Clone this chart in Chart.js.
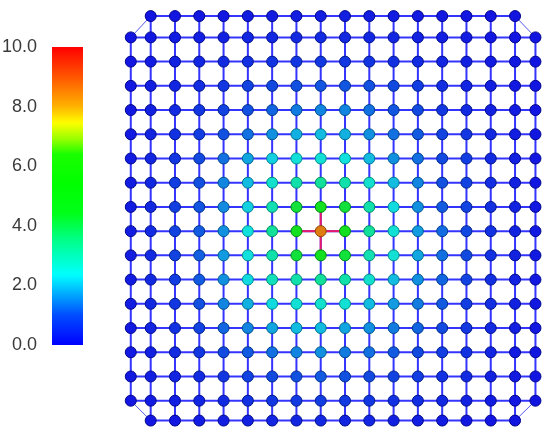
<!DOCTYPE html>
<html>
<head>
<meta charset="utf-8">
<script src="https://cdn.jsdelivr.net/npm/chart.js@4/dist/chart.umd.min.js"></script>
<style>
  html, body { margin: 0; padding: 0; background: #ffffff; }
  #wrap { position: relative; width: 550px; height: 437px; }
  #gridBox { position: absolute; left: 0; top: 0; width: 550px; height: 437px; }
  #barBox { position: absolute; left: 0; top: 0; width: 100px; height: 437px; }
</style>
</head>
<body>
<div id="wrap">
  <div id="gridBox"><canvas id="grid"></canvas></div>
  <div id="barBox"><canvas id="bar"></canvas></div>
</div>
<script>
// Node coordinates (columns left->right, rows top->bottom)
const xPos = [0.18, 1, 2, 3, 4, 5, 6, 7, 8, 9, 10, 11, 12, 13, 14, 15, 16, 16.84];
const yPos = [16.88, 16, 15, 14, 13, 12, 11, 10, 9, 8, 7, 6, 5, 4, 3, 2, 1, 0.18];

// Node values, rows top -> bottom (null = no node)
const row00 = [null,0.05,0.07,0.1,0.12,0.15,0.18,0.2,0.2,0.2,0.18,0.15,0.12,0.1,0.07,0.05,0.04,null];
const row01 = [0.05,0.1,0.15,0.2,0.25,0.3,0.35,0.38,0.4,0.38,0.35,0.3,0.25,0.2,0.15,0.1,0.07,0.04];
const row02 = [0.07,0.14,0.22,0.3,0.4,0.48,0.55,0.6,0.62,0.6,0.55,0.48,0.4,0.3,0.22,0.14,0.1,0.05];
const row03 = [0.1,0.2,0.3,0.45,0.6,0.8,0.9,1.0,1.05,1.05,1.0,0.9,0.7,0.45,0.3,0.2,0.12,0.06];
const row04 = [0.1,0.22,0.4,0.6,0.8,1.0,1.2,1.4,1.5,1.5,1.3,1.05,0.9,0.6,0.4,0.25,0.15,0.07];
const row05 = [0.12,0.28,0.5,0.7,1.0,1.3,1.6,1.9,2.0,1.9,1.6,1.3,1.1,0.8,0.6,0.35,0.2,0.08];
const row06 = [0.15,0.32,0.6,0.9,1.3,1.8,2.2,2.45,2.5,2.4,2.0,1.6,1.3,0.9,0.7,0.4,0.22,0.1];
const row07 = [0.15,0.35,0.7,1.0,1.5,2.0,2.6,3.0,3.2,3.0,2.6,2.0,1.5,1.0,0.8,0.45,0.25,0.1];
const row08 = [0.17,0.38,0.72,1.05,1.55,2.2,2.9,4.2,4.7,4.2,3.0,2.3,1.6,1.1,0.8,0.48,0.26,0.1];
const row09 = [0.18,0.4,0.8,1.1,1.6,2.4,3.2,4.7,8.5,4.7,3.2,2.5,1.7,1.25,0.85,0.5,0.27,0.11];
const row10 = [0.18,0.4,0.8,1.15,1.7,2.4,3.0,4.2,4.7,4.2,2.9,2.5,1.8,1.3,0.9,0.5,0.27,0.11];
const row11 = [0.17,0.38,0.7,1.1,1.6,2.3,2.8,3.0,3.2,3.0,2.6,2.0,1.6,1.2,0.8,0.48,0.26,0.1];
const row12 = [0.15,0.35,0.6,1.0,1.5,1.9,2.3,2.5,2.6,2.5,2.0,1.7,1.4,1.1,0.7,0.45,0.24,0.1];
const row13 = [0.13,0.3,0.5,0.8,1.2,1.5,1.8,2.0,2.0,1.8,1.6,1.4,1.2,0.9,0.6,0.4,0.2,0.09];
const row14 = [0.11,0.25,0.4,0.6,0.9,1.1,1.3,1.5,1.6,1.4,1.3,1.1,0.9,0.7,0.5,0.3,0.17,0.08];
const row15 = [0.1,0.2,0.3,0.4,0.6,0.8,0.9,1.0,1.1,1.0,0.9,0.8,0.7,0.5,0.4,0.25,0.13,0.07];
const row16 = [0.07,0.14,0.2,0.3,0.4,0.5,0.6,0.65,0.7,0.65,0.6,0.5,0.45,0.35,0.25,0.15,0.1,0.05];
const row17 = [null,0.07,0.1,0.15,0.2,0.25,0.3,0.33,0.35,0.33,0.3,0.25,0.2,0.15,0.1,0.07,0.05,null];
const values = [row00,row01,row02,row03,row04,row05,row06,row07,row08,row09,row10,row11,row12,row13,row14,row15,row16,row17];

// Colour scale: value -> hue stops (as seen on the colour bar)
const scaleMin = 0, scaleMax = 10;
const scaleTicks = [0, 2, 4, 6, 8, 10];
const cmapValues = [0, 1.0, 2.35, 3.6, 4.4, 5.4, 6.4, 6.9, 7.45, 8.0, 9.0, 10];
const cmapHues   = [240, 222, 180, 150, 126, 120, 114, 85, 60, 42, 20, 0];
const hotValue = 8; // edges touching nodes above this are drawn in red

function hsv(h, s, v) {
  const f = (n) => { const k = (n + h / 60) % 6; return v - v * s * Math.max(0, Math.min(k, 4 - k, 1)); };
  return 'rgb(' + Math.round(f(5) * 255) + ',' + Math.round(f(3) * 255) + ',' + Math.round(f(1) * 255) + ')';
}
function hueOf(v) {
  if (v <= cmapValues[0]) return cmapHues[0];
  for (let i = 1; i < cmapValues.length; i++) {
    if (v <= cmapValues[i]) {
      const t = (v - cmapValues[i - 1]) / (cmapValues[i] - cmapValues[i - 1]);
      return cmapHues[i - 1] + t * (cmapHues[i] - cmapHues[i - 1]);
    }
  }
  return cmapHues[cmapHues.length - 1];
}

// Build nodes
const nodes = [];
const nodeFill = [];
const nodeEdge = [];
values.forEach((row, r) => row.forEach((v, c) => {
  if (v === null) return;
  nodes.push({ x: xPos[c], y: yPos[r], v: v });
  const h = hueOf(v);
  nodeFill.push(hsv(h, 0.92, 0.88));
  nodeEdge.push(hsv(h, 1, 0.55));
}));

const baseLine = '#3434ff';
const hotLine = '#e8186a';

const lineSets = [];
function addLine(pts, width, color, order) {
  lineSets.push({
    type: 'line', data: pts, showLine: true, pointRadius: 0, pointHoverRadius: 0,
    borderWidth: width, borderColor: color,
    fill: false, tension: 0, order: order, clip: false
  });
}
const hotEdges = [];
function collectHot(pts) {
  for (let i = 1; i < pts.length; i++) {
    if (pts[i - 1].v > hotValue || pts[i].v > hotValue) {
      hotEdges.push([{ x: pts[i - 1].x, y: pts[i - 1].y }, { x: pts[i].x, y: pts[i].y }]);
    }
  }
}
// rows
values.forEach((row, r) => {
  const pts = [];
  row.forEach((v, c) => { if (v !== null) pts.push({ x: xPos[c], y: yPos[r], v: v }); });
  addLine(pts, 2, baseLine, 2);
  collectHot(pts);
});
// columns
for (let c = 0; c < xPos.length; c++) {
  const pts = [];
  values.forEach((row, r) => { if (row[c] !== null) pts.push({ x: xPos[c], y: yPos[r], v: row[c] }); });
  addLine(pts, 2, baseLine, 2);
  collectHot(pts);
}
// corner diagonals
const R = values.length - 1, C = xPos.length - 1;
[[0, 0, 1, 1], [0, C, 1, -1], [R, 0, -1, 1], [R, C, -1, -1]].forEach(([r, c, dr, dc]) => {
  if (values[r][c] !== null) return;
  const a = { x: xPos[c + dc], y: yPos[r] };
  const b = { x: xPos[c], y: yPos[r + dr] };
  addLine([a, b], 1, 'rgba(70,70,235,0.9)', 2);
});
// edges next to the peak, drawn in red over the blue mesh
hotEdges.forEach(e => addLine(e, 2, hotLine, 1));

new Chart(document.getElementById('grid'), {
  type: 'scatter',
  data: {
    datasets: [{
      data: nodes, pointRadius: 5.5, pointHoverRadius: 5.5, pointBorderWidth: 1,
      pointBackgroundColor: nodeFill, pointBorderColor: nodeEdge, order: 0, clip: false
    }].concat(lineSets)
  },
  options: {
    responsive: true, maintainAspectRatio: false, animation: false,
    layout: { padding: 0, autoPadding: false },
    plugins: { legend: { display: false }, tooltip: { enabled: false } },
    events: [],
    scales: {
      x: { type: 'linear', min: -5.204, max: 17.439, display: false },
      y: { type: 'linear', min: -0.499, max: 17.544, display: false }
    }
  }
});

// Colour bar
new Chart(document.getElementById('bar'), {
  type: 'bar',
  data: {
    labels: [''],
    datasets: [{
      data: [[scaleMin, scaleMax]],
      barPercentage: 1, categoryPercentage: 1, borderWidth: 0, borderSkipped: false,
      backgroundColor: (ctx) => {
        const chart = ctx.chart;
        if (!chart.chartArea) return 'blue';
        const ys = chart.scales.y;
        const g = chart.ctx.createLinearGradient(0, ys.getPixelForValue(scaleMin), 0, ys.getPixelForValue(scaleMax));
        for (let i = 0; i <= 100; i++) {
          const v = scaleMin + (scaleMax - scaleMin) * i / 100;
          g.addColorStop(i / 100, hsv(hueOf(v), 1, 1));
        }
        return g;
      }
    }]
  },
  options: {
    responsive: true, maintainAspectRatio: false, animation: false,
    layout: { padding: { top: 47, bottom: 92, right: 17, left: 0 }, autoPadding: false },
    plugins: { legend: { display: false }, tooltip: { enabled: false } },
    events: [],
    scales: {
      x: { display: false },
      y: {
        min: scaleMin, max: scaleMax,
        afterBuildTicks: (s) => { s.ticks = scaleTicks.map(v => ({ value: v })); },
        afterFit: (s) => { s.width = 52; },
        grid: { display: false, drawTicks: false },
        border: { display: false },
        ticks: {
          padding: 15, color: '#3a3a3a',
          font: { family: '"Liberation Sans", Arial, Helvetica, sans-serif', size: 18 },
          callback: (v) => Number(v).toFixed(1)
        }
      }
    }
  }
});
</script>
</body>
</html>
